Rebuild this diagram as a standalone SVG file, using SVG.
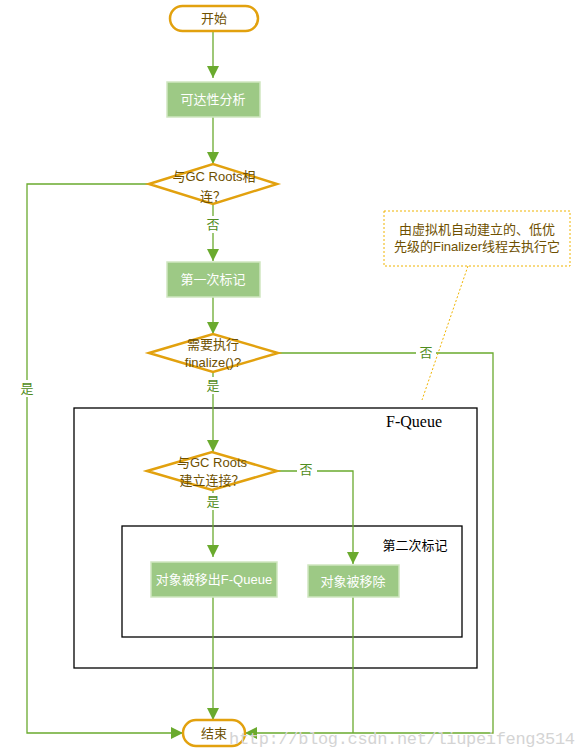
<svg xmlns="http://www.w3.org/2000/svg" width="581" height="753" viewBox="0 0 581 753">
<defs>
<style>
text{font-family:"Liberation Sans","Noto Sans CJK SC",sans-serif;font-size:13px;text-anchor:middle;dominant-baseline:central}
.term{fill:#fff;stroke:#e2a10e;stroke-width:2.5}
.proc{fill:#9dc985;stroke:#cfe6c0;stroke-width:1.5}
.dec{fill:#fff;stroke:#e2a10e;stroke-width:2.5}
.dt{fill:#6e5000}
.pt{fill:#fff}
.lbl{fill:#4f8c20}
.ln{fill:none;stroke:#6aaa2e;stroke-width:1.3}
.frame{fill:none;stroke:#000;stroke-width:1.3}
</style>
<marker id="ah" viewBox="0 0 12 12" refX="12" refY="6" markerWidth="12" markerHeight="12" markerUnits="userSpaceOnUse" orient="auto">
<path d="M0,0 L12,6 L0,12 Z" fill="#6aaa2e"/>
</marker>
</defs>
<rect width="581" height="753" fill="#fff"/>
<g id="frames">
<rect class="frame" x="74" y="408" width="403" height="260"/>
<text x="414" y="421" style="font-family:'Liberation Serif',serif;font-size:16px;fill:#000">F-Queue</text>
<rect class="frame" x="122" y="526" width="340" height="111"/>
<text x="415" y="545" style="fill:#000">第二次标记</text>
</g>
<g id="connectors">
<path class="ln" d="M213,31 V78" marker-end="url(#ah)"/>
<path class="ln" d="M213,117 V164" marker-end="url(#ah)"/>
<path class="ln" d="M213,204 V261" marker-end="url(#ah)"/>
<path class="ln" d="M213,297 V334" marker-end="url(#ah)"/>
<path class="ln" d="M213,372 V452" marker-end="url(#ah)"/>
<path class="ln" d="M213,490 V557" marker-end="url(#ah)"/>
<path class="ln" d="M277,471 H353 V564" marker-end="url(#ah)"/>
<path class="ln" d="M213,597 V720" marker-end="url(#ah)"/>
<path class="ln" d="M149,184 H27 V733 H183" marker-end="url(#ah)"/>
<path class="ln" d="M278,353 H493 V733 H245" marker-end="url(#ah)"/>
<path class="ln" d="M353,597 V733"/>
<rect x="203" y="216" width="20" height="17" fill="#fff"/>
<text class="lbl" x="213" y="224">否</text>
<rect x="203" y="377" width="20" height="17" fill="#fff"/>
<text class="lbl" x="213" y="385">是</text>
<rect x="16" y="380" width="22" height="17" fill="#fff"/>
<text class="lbl" x="27" y="388">是</text>
<rect x="416" y="345" width="20" height="17" fill="#fff"/>
<text class="lbl" x="426" y="352">否</text>
<rect x="297" y="462" width="20" height="17" fill="#fff"/>
<text class="lbl" x="306" y="469">否</text>
<rect x="203" y="493" width="20" height="17" fill="#fff"/>
<text class="lbl" x="213" y="501">是</text>
</g>
<g id="start">
<rect class="term" x="170" y="6" width="88" height="25" rx="12.5"/>
<text class="dt" x="214" y="18">开始</text>
</g>
<g id="reach">
<rect class="proc" x="167" y="82" width="93" height="35"/>
<text class="pt" x="213" y="99">可达性分析</text>
</g>
<g id="gcroots1">
<polygon class="dec" points="149,184 213,164 277,184 213,204"/>
<text class="dt" x="214" y="176">与GC Roots相</text>
<text class="dt" x="213" y="196">连？</text>
</g>
<g id="mark1">
<rect class="proc" x="167" y="262" width="93" height="35"/>
<text class="pt" x="213" y="279">第一次标记</text>
</g>
<g id="finalize">
<polygon class="dec" points="149,353 213,334 278,353 213,372"/>
<text class="dt" x="213" y="344">需要执行</text>
<text class="dt" x="213" y="362">finalize()?</text>
</g>
<g id="gcroots2">
<polygon class="dec" points="147,471 212,452 277,471 212,490"/>
<text class="dt" x="212" y="462">与GC Roots</text>
<text class="dt" x="212" y="480">建立连接？</text>
</g>
<g id="moveout">
<rect class="proc" x="151" y="562" width="126" height="35"/>
<text class="pt" x="214" y="579">对象被移出F-Queue</text>
</g>
<g id="removed">
<rect class="proc" x="308" y="565" width="91" height="32"/>
<text class="pt" x="353" y="581">对象被移除</text>
</g>
<g id="end">
<rect class="term" x="183" y="720" width="62" height="26" rx="13"/>
<text class="dt" x="214" y="733">结束</text>
</g>
<g id="note">
<rect x="384" y="211" width="186" height="55" fill="#fff" stroke="#f0b400" stroke-width="1" stroke-dasharray="2,2"/>
<text class="dt" x="477" y="229">由虚拟机自动建立的、低优</text>
<text class="dt" x="477" y="246">先级的Finalizer线程去执行它</text>
<path d="M468,266 L422,400" fill="none" stroke="#f0b400" stroke-width="1" stroke-dasharray="2,2"/>
</g>
<text x="402" y="739" style="font-family:'Liberation Mono',monospace;font-size:17px;fill:#d4d4d4" textLength="346">http://blog.csdn.net/liupeifeng3514</text>
</svg>
